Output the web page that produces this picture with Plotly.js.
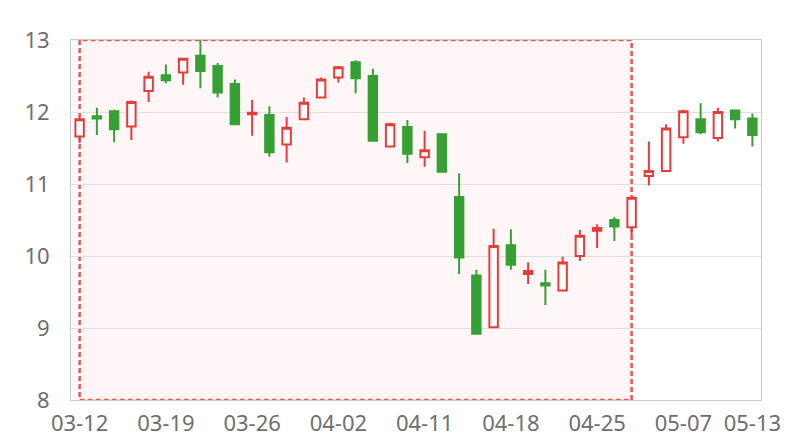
<!DOCTYPE html>
<html><head><meta charset="utf-8">
<script src="https://cdn.plot.ly/plotly-3.0.1.min.js"></script>
<style>html,body{margin:0;padding:0;background:#fff}#chart{width:800px;height:440px}</style>
</head><body><div id="chart"></div>
<script>
const dates = ['03-12','03-13','03-14','03-15','03-16','03-19','03-20','03-21','03-22','03-23',
  '03-26','03-27','03-28','03-29','03-30','04-02','04-03','04-04','04-09','04-10',
  '04-11','04-12','04-13','04-16','04-17','04-18','04-19','04-20','04-23','04-24',
  '04-25','04-26','04-27','05-03','05-04','05-07','05-08','05-09','05-10','05-13'];
const openV  = [11.66,11.94,12.01,11.80,12.29,12.51,12.55,12.78,12.64,12.39,
  11.97,11.96,11.55,11.90,12.20,12.48,12.69,12.50,11.52,11.79,
  11.37,11.69,10.82,9.73,9.01,10.15,9.75,9.62,9.52,10.00,
  10.35,10.50,10.40,11.11,11.18,11.65,11.90,11.64,12.02,11.91];
const closeV = [11.90,11.91,11.76,12.14,12.49,12.44,12.74,12.57,12.27,11.83,
  11.99,11.44,11.78,12.13,12.45,12.62,12.47,11.60,11.83,11.42,
  11.47,11.17,9.98,8.92,10.14,9.88,9.79,9.59,9.91,10.28,
  10.39,10.41,10.81,11.18,11.77,12.01,11.72,12.00,11.90,11.68];
const highV  = [11.94,12.06,12.03,12.16,12.56,12.66,12.75,13.00,12.68,12.45,
  12.17,12.08,11.93,12.20,12.48,12.64,12.72,12.60,11.85,11.89,
  11.74,11.69,11.15,9.81,10.38,10.37,9.91,9.81,9.99,10.36,
  10.44,10.54,10.82,11.59,11.83,12.03,12.12,12.06,12.03,11.98];
const lowV   = [11.57,11.68,11.58,11.61,12.14,12.40,12.38,12.33,12.20,11.83,
  11.67,11.38,11.30,11.89,12.19,12.41,12.26,11.60,11.52,11.29,
  11.24,11.17,9.75,8.92,9.01,9.81,9.61,9.32,9.52,9.93,
  10.11,10.21,10.29,10.98,11.18,11.56,11.69,11.59,11.77,11.52];
const tickDates = ['03-12','03-19','03-26','04-02','04-11','04-18','04-25','05-07','05-13'];
const markStart = '03-12', markEnd = '04-27';

const upColor = '#e83b3b', downColor = '#37a035';

Plotly.newPlot('chart', [{
  type: 'candlestick', x: dates, open: openV, close: closeV, high: highV, low: lowV,
  increasing: {line: {color: upColor, width: 2}, fillcolor: '#ffffff'},
  decreasing: {line: {color: downColor, width: 2}, fillcolor: downColor},
  whiskerwidth: 0, hoverinfo: 'none'
}], {
  width: 800, height: 440,
  margin: {l: 71, r: 39, t: 40, b: 40},
  paper_bgcolor: '#fff', plot_bgcolor: '#fff',
  showlegend: false,
  font: {family: '"Noto Sans", "Open Sans", sans-serif', size: 22, color: '#6e6e6e'},
  xaxis: {
    type: 'category', categoryorder: 'array', categoryarray: dates,
    range: [-0.5, dates.length - 0.5],
    rangeslider: {visible: false},
    tickvals: tickDates, ticktext: tickDates,
    showgrid: false, showline: true, linecolor: '#ccc', linewidth: 1, mirror: true,
    ticks: '', ticklabelstandoff: 4, zeroline: false,
    tickfont: {size: 22, color: '#6e6e6e'}
  },
  yaxis: {
    range: [8, 13], tickvals: [8, 9, 10, 11, 12, 13],
    showgrid: true, gridcolor: '#e0e0e0', gridwidth: 1,
    showline: true, linecolor: '#ccc', linewidth: 1, mirror: true,
    ticks: '', ticklabelstandoff: 16, zeroline: false,
    tickfont: {size: 22, color: '#6e6e6e'}
  },
  shapes: [{
    type: 'rect', xref: 'x', yref: 'y', x0: markStart, x1: markEnd, y0: 8, y1: 13,
    fillcolor: 'rgba(255,210,210,0.18)', line: {color: '#f05454', width: 2.5, dash: '5px,3px'},
    layer: 'below'
  }]
}, {staticPlot: true});
</script></body></html>
